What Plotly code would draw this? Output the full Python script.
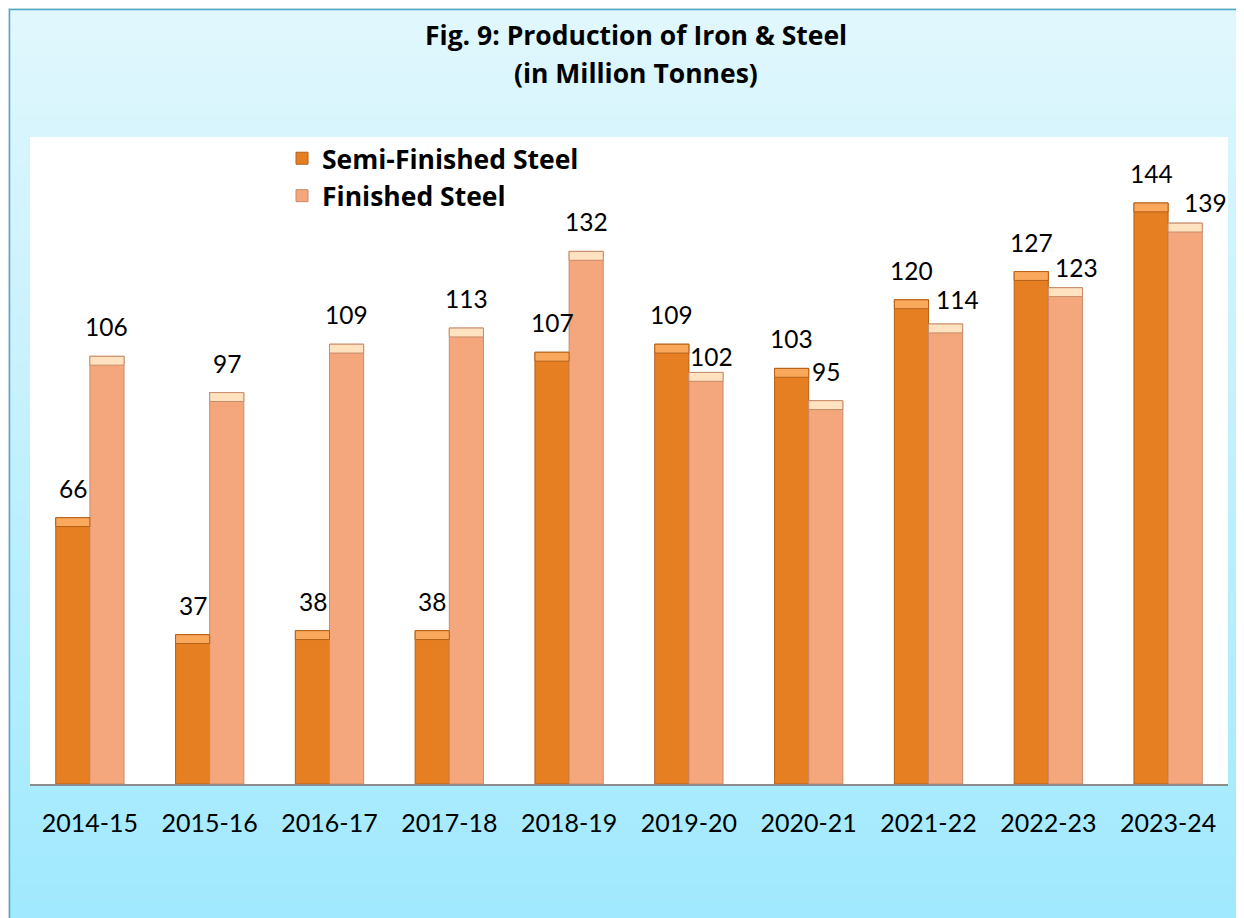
import plotly.graph_objects as go

# ---------------- data ----------------
years = ["2014-15", "2015-16", "2016-17", "2017-18", "2018-19",
         "2019-20", "2020-21", "2021-22", "2022-23", "2023-24"]
semi_finished = [66, 37, 38, 38, 107, 109, 103, 120, 127, 144]
finished = [106, 97, 109, 113, 132, 102, 95, 114, 123, 139]

title_line1 = "Fig. 9: Production of Iron & Steel"
title_line2 = "(in Million Tonnes)"
series_names = ["Semi-Finished Steel", "Finished Steel"]

# label nudges in pixels (manual label placement in the original)
fin_label_dx = [0, 0, 0, 0, 0, 6, 0, 12, 11, 20]
fin_label_dy = [0, 0, 0, 0, 0, -14, 0, -5, -9, -9]

# ---------------- style ----------------
FONT = "Lato, 'Open Sans', sans-serif"
BFONT = "'Open Sans', Lato, sans-serif"
OFF = 8                       # page body margin of the html page
W, H = 1244 - OFF, 918 - OFF  # figure size
PL, PT, PR, PB = 30, 137, 1228, 784   # plot area in page pixels
ML, MT = PL - OFF, PT - OFF
PW, PH = PR - PL, PB - PT
MR, MB = W - ML - PW, H - MT - PH
YMAX = 160.35
BW = 0.285
CAP = 2.2

SEMI = "#E67E22"
SEMI_EDGE = "#B5601A"
SEMI_CAP = "#F9A85C"
FIN = "#F4A77C"
FIN_EDGE = "#C98B6B"
FIN_CAP = "#FFE3C0"


def px_x(p):
    return (p - PL) / PW


def px_y(p):
    return (PB - p) / PH


def lerp_hex(c1, c2, t):
    a = [int(c1[i:i + 2], 16) for i in (1, 3, 5)]
    b = [int(c2[i:i + 2], 16) for i in (1, 3, 5)]
    return "#" + "".join(f"{round(a[k] + (b[k] - a[k]) * t):02x}" for k in range(3))


fig = go.Figure()

fig.add_trace(go.Bar(
    x=years, y=semi_finished, name=f"<b>{series_names[0]}</b>",
    offset=-BW, width=BW,
    marker=dict(color=SEMI, line=dict(color=SEMI_EDGE, width=1)),
    hoverinfo="x+y",
))
fig.add_trace(go.Bar(
    x=years, y=finished, name=f"<b>{series_names[1]}</b>",
    offset=0, width=BW,
    marker=dict(color=FIN, line=dict(color=FIN_EDGE, width=1)),
    hoverinfo="x+y",
))
# bevel caps
fig.add_trace(go.Bar(
    x=years, y=[CAP] * len(years), base=[v - CAP for v in semi_finished],
    offset=-BW, width=BW, showlegend=False, hoverinfo="skip",
    marker=dict(color=SEMI_CAP, line=dict(color=SEMI_EDGE, width=1)),
))
fig.add_trace(go.Bar(
    x=years, y=[CAP] * len(years), base=[v - CAP for v in finished],
    offset=0, width=BW, showlegend=False, hoverinfo="skip",
    marker=dict(color=FIN_CAP, line=dict(color=FIN_EDGE, width=1)),
))

annotations = []
for i, yr in enumerate(years):
    annotations.append(dict(
        x=yr, y=semi_finished[i], xref="x", yref="y", text=str(semi_finished[i]),
        showarrow=False, xshift=-17, yshift=13, yanchor="bottom",
        font=dict(family=FONT, size=24.5, color="#000000")))
    annotations.append(dict(
        x=yr, y=finished[i], xref="x", yref="y", text=str(finished[i]),
        showarrow=False, xshift=17 + fin_label_dx[i], yshift=13 + fin_label_dy[i],
        yanchor="bottom",
        font=dict(family=FONT, size=24.5, color="#000000")))

annotations.append(dict(
    x=px_x(636), y=px_y(35), xref="paper", yref="paper", text=f"<b>{title_line1}</b>",
    showarrow=False, xanchor="center", yanchor="middle",
    font=dict(family=BFONT, size=26.5, color="#000000")))
annotations.append(dict(
    x=px_x(636), y=px_y(73), xref="paper", yref="paper", text=f"<b>{title_line2}</b>",
    showarrow=False, xanchor="center", yanchor="middle",
    font=dict(family=BFONT, size=26.5, color="#000000")))

# background: outer frame with vertical gradient
shapes = []
shapes.append(dict(type="rect", xref="paper", yref="paper",
                   x0=px_x(6), x1=px_x(1260), y0=px_y(930), y1=px_y(6),
                   fillcolor="#e8e8e8", line=dict(width=0), layer="below"))
top_c, bot_c = "#E0F7FD", "#A0E9FE"
nb = 60
y_top, y_bot = 10, 930
for k in range(nb):
    a = y_top + (y_bot - y_top) * k / nb
    b = y_top + (y_bot - y_top) * (k + 1) / nb
    shapes.append(dict(type="rect", xref="paper", yref="paper",
                       x0=px_x(10), x1=px_x(1260), y0=px_y(b + 0.5), y1=px_y(a),
                       fillcolor=lerp_hex(top_c, bot_c, k / (nb - 1)),
                       line=dict(width=0), layer="below"))
shapes.append(dict(type="rect", xref="paper", yref="paper",
                   x0=px_x(9.5), x1=px_x(1260), y0=px_y(930), y1=px_y(9.5),
                   fillcolor="rgba(0,0,0,0)", line=dict(color="#4BACC6", width=1.5),
                   layer="below"))
shapes.append(dict(type="rect", xref="paper", yref="paper",
                   x0=0, x1=1, y0=0, y1=1, fillcolor="#FFFFFF",
                   line=dict(width=0), layer="below"))

fig.update_layout(
    width=W, height=H,
    margin=dict(l=ML, r=MR, t=MT, b=MB, pad=0),
    paper_bgcolor="#FFFFFF",
    plot_bgcolor="#FFFFFF",
    barmode="overlay",
    showlegend=True,
    legend=dict(
        x=px_x(282), y=px_y(134.5), xanchor="left", yanchor="top",
        bgcolor="rgba(0,0,0,0)", borderwidth=0,
        font=dict(family=BFONT, size=26.5, color="#000000"),
        itemwidth=30, tracegroupgap=0,
    ),
    xaxis=dict(
        type="category", range=[-0.5, len(years) - 0.5],
        showgrid=False, zeroline=False,
        showline=True, linecolor="#8C8C8C", linewidth=1.5,
        ticks="", ticklabelstandoff=16,
        tickfont=dict(family=FONT, size=25, color="#000000"),
        fixedrange=True,
    ),
    yaxis=dict(
        range=[0, YMAX], visible=False, showgrid=False, zeroline=False,
        fixedrange=True,
    ),
    annotations=annotations,
    shapes=shapes,
)

fig.write_html("out.html")
